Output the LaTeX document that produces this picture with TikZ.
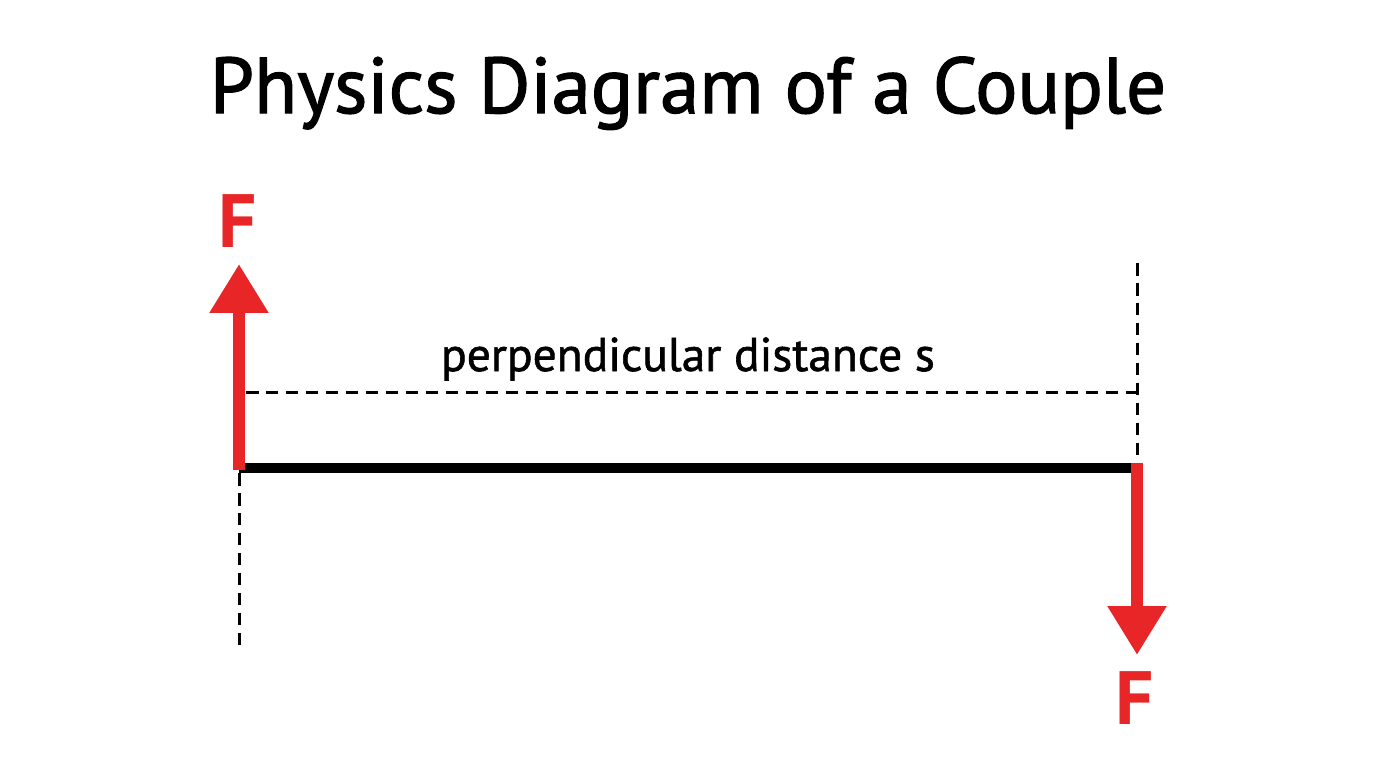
\documentclass[tikz,border=0pt]{standalone}
\usepackage{fontspec}
\setmainfont{PT Sans}
\newfontfamily\medfont{PT Sans}[RawFeature={embolden=1.6}]
\newfontfamily\labelfont{PT Sans}[RawFeature={embolden=1.2}]
\usepackage{xcolor}
\usetikzlibrary{positioning}
\usetikzlibrary{arrows.meta}
\usetikzlibrary{math}

\definecolor{forcered}{RGB}{232,38,40}

\tikzset{
  force/.style={forcered, line width=0.24cm, line cap=butt,
    -{Triangle[width=1.12cm,length=0.98cm]}},
  guide/.style={black, line width=0.06cm, dash pattern=on 0.25cm off 0.15cm},
  beam/.style={black, line width=0.2cm},
}

\begin{document}
\begin{tikzpicture}[x=0.02cm,y=-0.02cm]

  \tikzmath{
    \beamy = 468;  % height of the beam
    \xl    = 239;  % left end of the beam
    \xr    = 1137; % right end of the beam
    \dashy = 392;  % height of the distance line
  }

  \useasboundingbox (0,0) rectangle (1376,768);

  % Title
  \node[anchor=base] (title) at (688,113)
    {\fontsize{45}{50}\medfont Physics Diagram of a Couple};

  % Ends of the beam and tips of the forces
  \coordinate (A) at (\xl, \beamy);
  \coordinate (B) at (\xr, \beamy);
  \coordinate (tipA) at (\xl, 264);
  \coordinate (tipB) at (\xr, 655);

  % Lines of action
  \coordinate (lowA) at (\xl, 652);
  \coordinate (topB) at (\xr, 263);
  \draw[guide] (\xl, 473) -- (lowA);
  \draw[guide] (topB) -- (\xr, 463);

  % perpendicular distance
  \coordinate (sA) at (246, \dashy);
  \coordinate (sB) at (\xr, \dashy);
  \draw[guide] (sA) -- (sB);
  \node[anchor=base] (dist) at (688,371)
    {\fontsize{27}{32}\labelfont perpendicular distance s};

  % beam
  \draw[beam] (A) -- (B);

  % the two forces
  \draw[force] ([yshift=-0.04cm]A) -- (tipA);
  \draw[force] ([yshift=0.1cm]B) -- (tipB);

  \node[anchor=base, forcered] (FA) at (238,247)
    {\fontsize{43}{48}\selectfont\bfseries F};
  \node[anchor=base, forcered] (FB) at (1135,724)
    {\fontsize{43}{48}\selectfont\bfseries F};

\end{tikzpicture}
\end{document}
